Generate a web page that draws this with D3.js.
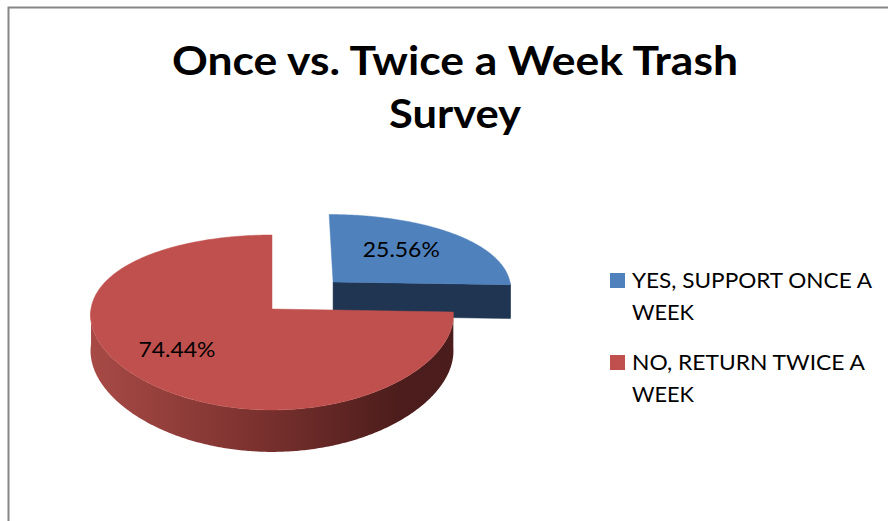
<!DOCTYPE html>
<html>
<head>
<meta charset="utf-8">
<script src="https://cdn.jsdelivr.net/npm/d3@7"></script>
<style>
  html, body { margin: 0; padding: 0; background: #ffffff; }
  svg { display: block; }
</style>
</head>
<body>
<svg id="chart" width="888" height="521"></svg>
<script>
// ---- data ----
const titleLines = ["Once vs. Twice a Week Trash", "Survey"];
const categories = ["YES, SUPPORT ONCE A WEEK", "NO, RETURN TWICE A WEEK"];
const values = [25.56, 74.44];
const valueLabels = ["25.56%", "74.44%"];
const explode = [0.48, 0];

// ---- styles ----
const topColors = ["#4F81BD", "#C0504D"];
const faceColors = ["#1F3552", "#5a2220"];
const FONT = "Lato, 'Open Sans', 'Liberation Sans', sans-serif";

const svg = d3.select("#chart");
const W = 888, H = 521;
svg.append("rect").attr("width", W).attr("height", H).attr("fill", "#fff");

// chart border (top + left visible)
svg.append("path")
  .attr("d", `M8.5,${H} L8.5,7.5 L${W},7.5`)
  .attr("fill", "none").attr("stroke", "#878787").attr("stroke-width", 2);

// title
const titleG = svg.append("g");
const titleSpecs = [
  { y: 75, width: 566 },
  { y: 128, width: 132 }
];
titleLines.forEach((t, i) => {
  titleG.append("text")
    .attr("x", 455).attr("y", titleSpecs[i].y)
    .attr("text-anchor", "middle")
    .attr("font-family", FONT).attr("font-weight", 700)
    .attr("font-size", 41).attr("fill", "#000")
    .attr("textLength", titleSpecs[i].width)
    .attr("lengthAdjust", "spacingAndGlyphs")
    .text(t);
});

// ---- 3D pie projection ----
const cx = 272, cy = 309, rx = 181, a = 85.4, k = 0.154, kx = 0.07, depth = 35.5;
function proj(s, c, h) {
  const w = 1 + k * c;
  return [cx + rx * s / (1 + kx * c), cy - a * c / w + depth * h / w];
}

const pie = d3.pie().sort(null).startAngle(0).endAngle(2 * Math.PI);
const arcs = pie(values);

const defs = svg.append("defs");
const grad = defs.append("linearGradient").attr("id", "redWall")
  .attr("gradientUnits", "userSpaceOnUse")
  .attr("x1", 90).attr("y1", 0).attr("x2", 453).attr("y2", 0);
grad.append("stop").attr("offset", 0).attr("stop-color", "#a84a46");
grad.append("stop").attr("offset", 0.45).attr("stop-color", "#7c322f");
grad.append("stop").attr("offset", 0.85).attr("stop-color", "#4c1d1c");
grad.append("stop").attr("offset", 1).attr("stop-color", "#4a1c1b");

const line = d3.line();
function samples(a0, a1) {
  const n = Math.max(2, Math.ceil((a1 - a0) / 0.01));
  return d3.range(n + 1).map(i => a0 + (a1 - a0) * i / n);
}

const pieG = svg.append("g");
const order = [0, 1];
order.forEach(i => {
  const d = arcs[i];
  const mid = (d.startAngle + d.endAngle) / 2;
  const os = explode[i] * Math.sin(mid), oc = explode[i] * Math.cos(mid);
  const P = (t, r, h) => proj(os + r * Math.sin(t), oc + r * Math.cos(t), h);
  const g = pieG.append("g");

  // radial faces
  [[d.startAngle, d.startAngle - Math.PI / 2], [d.endAngle, d.endAngle + Math.PI / 2]].forEach(([phi, nrm]) => {
    if (Math.cos(nrm) < -0.01) {
      g.append("path")
        .attr("d", line([P(0, 0, 0), P(phi, 1, 0), P(phi, 1, 1), P(0, 0, 1)]) + "Z")
        .attr("fill", faceColors[i]).attr("stroke", faceColors[i]).attr("stroke-width", 0.5);
    }
  });

  // outer wall (front half)
  const w0 = Math.max(d.startAngle, Math.PI / 2), w1 = Math.min(d.endAngle, 3 * Math.PI / 2);
  if (w1 > w0) {
    const ts = samples(w0, w1);
    const pts = ts.map(t => P(t, 1, 0)).concat(ts.slice().reverse().map(t => P(t, 1, 1)));
    g.append("path").attr("d", line(pts) + "Z")
      .attr("fill", i === 1 ? "url(#redWall)" : faceColors[i]);
  }

  // top face
  const tp = [P(0, 0, 0)].concat(samples(d.startAngle, d.endAngle).map(t => P(t, 1, 0)));
  g.append("path").attr("d", line(tp) + "Z")
    .attr("fill", topColors[i]).attr("stroke", topColors[i]).attr("stroke-width", 0.5);

  // value label
  const lp = P(mid, 0.64, 0);
  g.append("text")
    .attr("x", lp[0] - 9).attr("y", lp[1] + 7)
    .attr("text-anchor", "middle")
    .attr("font-family", FONT).attr("font-size", 22).attr("fill", "#000")
    .attr("textLength", 77).attr("lengthAdjust", "spacingAndGlyphs")
    .text(valueLabels[i]);
});

// ---- legend ----
const legendG = svg.append("g");
const legendY = [288, 370];
const lineGap = 32;
const lineWidths = [[240, 62], [233, 62]];
categories.forEach((cat, i) => {
  const cut = cat.lastIndexOf(" ");
  const lines = [cat.slice(0, cut), cat.slice(cut + 1)];
  legendG.append("rect")
    .attr("x", 610).attr("y", legendY[i] - 15)
    .attr("width", 15).attr("height", 15)
    .attr("fill", topColors[i]);
  lines.forEach((ln, j) => {
    legendG.append("text")
      .attr("x", 632).attr("y", legendY[i] + j * lineGap)
      .attr("font-family", FONT).attr("font-size", 21).attr("fill", "#000")
      .attr("textLength", lineWidths[i][j]).attr("lengthAdjust", "spacingAndGlyphs")
      .text(ln);
  });
});
</script>
</body>
</html>
